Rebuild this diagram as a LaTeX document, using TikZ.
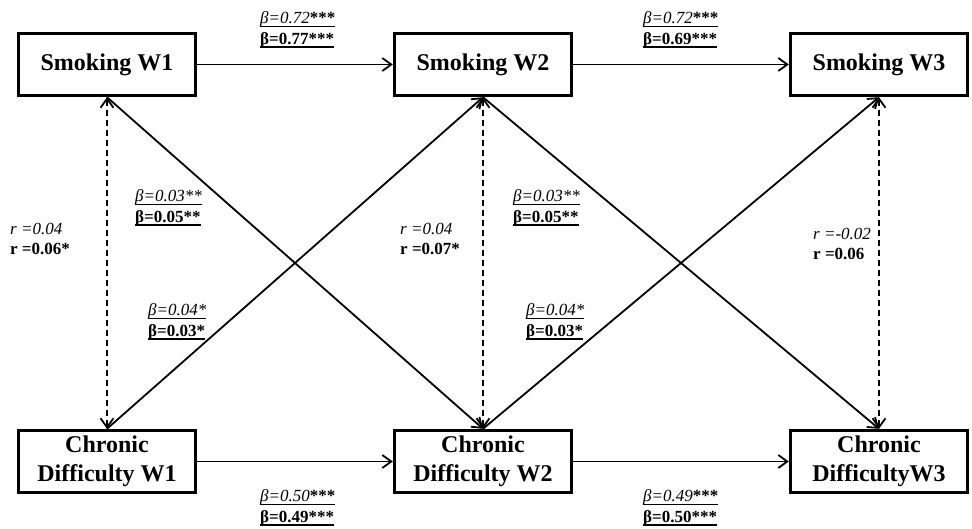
\documentclass[tikz,border=0pt]{standalone}
\usepackage{fontspec}
\setmainfont{Liberation Serif}
\usetikzlibrary{arrows.meta}
\newsavebox\ulbox
\newcommand\myul[1]{\sbox\ulbox{#1}\rlap{\rule[-3.5pt]{\wd\ulbox}{1.6pt}}\usebox\ulbox}
\begin{document}
\begin{tikzpicture}[x=1pt,y=-1pt,
  box/.style={draw,line width=3.4pt,minimum width=177pt,minimum height=62pt,inner sep=0pt,align=center,font=\fontsize{24}{29}\selectfont\bfseries},
  pth/.style={line width=1.8pt,-{Straight Barb[length=9pt,width=13pt]}},
  corr/.style={line width=1.8pt,dash pattern=on 6pt off 4pt,{Straight Barb[length=9pt,width=13pt]}-{Straight Barb[length=9pt,width=13pt]}},
  lab/.style={anchor=west,inner sep=0pt,align=left,font=\fontsize{17}{20.5}\selectfont}]
\useasboundingbox (0,0) rectangle (972,529);
% boxes
\node[box] (s1) at (107,64.5) {Smoking W1};
\node[box] (s2) at (483,64.5) {Smoking W2};
\node[box] (s3) at (879,64.5) {Smoking W3};
\node[box] (c1) at (107,461.5) {Chronic\\Difficulty W1};
\node[box] (c2) at (483,461.5) {Chronic\\Difficulty W2};
\node[box] (c3) at (879,461.5) {Chronic\\DifficultyW3};
% autoregressive paths
\draw[pth] (s1.east) -- (s2.west);
\draw[pth] (s2.east) -- (s3.west);
\draw[pth] (c1.east) -- (c2.west);
\draw[pth] (c2.east) -- (c3.west);
% cross-lagged paths
\draw[pth] (s1.south) -- (c2.north);
\draw[pth] (c1.north) -- (s2.south);
\draw[pth] (s2.south) -- (c3.north);
\draw[pth] (c2.north) -- (s3.south);
% correlations
\draw[corr] (s1.south) -- (c1.north);
\draw[corr] (s2.south) -- (c2.north);
\draw[corr] (s3.south) -- (c3.north);
% labels
\node[lab] (h1) at (260,30) {\myul{\itshape β=0.72\bfseries\upshape ***}\\\myul{\bfseries β=0.77***}};
\node[lab] (h2) at (643,30) {\myul{\itshape β=0.72\bfseries\upshape ***}\\\myul{\bfseries β=0.69***}};
\node[lab] (b1) at (260,508) {\myul{\itshape β=0.50\bfseries\upshape ***}\\\myul{\bfseries β=0.49***}};
\node[lab] (b2) at (643,508) {\myul{\itshape β=0.49\bfseries\upshape ***}\\\myul{\bfseries β=0.50***}};
\node[lab] (d1) at (135,208) {\myul{\itshape β=0.03**}\\\myul{\bfseries β=0.05**}};
\node[lab] (d2) at (513,208) {\myul{\itshape β=0.03**}\\\myul{\bfseries β=0.05**}};
\node[lab] (d3) at (148,322) {\myul{\itshape β=0.04*}\\\myul{\bfseries β=0.03*}};
\node[lab] (d4) at (526,322) {\myul{\itshape β=0.04*}\\\myul{\bfseries β=0.03*}};
\node[lab] (r1) at (10,239) {{\itshape r =0.04}\\{\bfseries r =0.06*}};
\node[lab] (r2) at (400,239) {{\itshape r =0.04}\\{\bfseries r =0.07*}};
\node[lab] (r3) at (813,244) {{\itshape r =-0.02}\\{\bfseries r =0.06}};
\end{tikzpicture}
\end{document}
